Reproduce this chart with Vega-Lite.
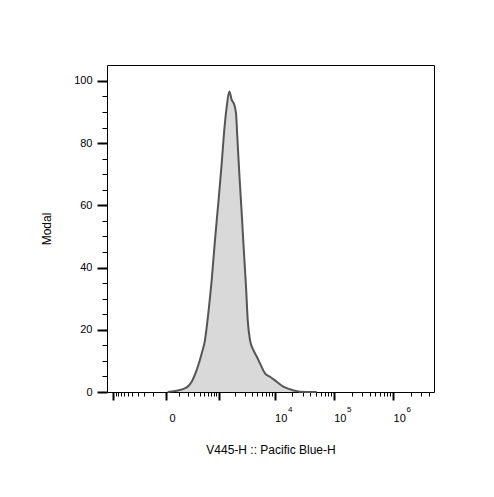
{
  "$schema": "https://vega.github.io/schema/vega-lite/v6.json",
  "width": 327,
  "height": 327,
  "autosize": {"type": "none"},
  "padding": {"left": 107, "top": 65, "right": 60, "bottom": 105},
  "background": "white",
  "config": {
    "view": {"stroke": "#000", "strokeWidth": 1},
    "font": "Liberation Sans",
    "axis": {
      "domain": false,
      "grid": false,
      "tickColor": "#000",
      "labelFont": "Liberation Sans",
      "labelFontSize": 11,
      "labelColor": "#000",
      "titleFont": "Liberation Sans",
      "titleFontSize": 12,
      "titleFontWeight": "normal",
      "titleColor": "#000"
    }
  },
  "data": {
    "values": [
      {"intensity": 10, "modal": 0},
      {"intensity": 37, "modal": 0.2},
      {"intensity": 77, "modal": 0.42},
      {"intensity": 185, "modal": 1.5},
      {"intensity": 256, "modal": 3.3},
      {"intensity": 343, "modal": 7.1},
      {"intensity": 449, "modal": 12.4},
      {"intensity": 530, "modal": 16.7},
      {"intensity": 623, "modal": 25.3},
      {"intensity": 732, "modal": 36.0},
      {"intensity": 852, "modal": 48.9},
      {"intensity": 989, "modal": 60.7},
      {"intensity": 1150, "modal": 73.5},
      {"intensity": 1271, "modal": 83.2},
      {"intensity": 1428, "modal": 91.7},
      {"intensity": 1595, "modal": 96.6},
      {"intensity": 1766, "modal": 93.9},
      {"intensity": 1944, "modal": 92.6},
      {"intensity": 2113, "modal": 89.6},
      {"intensity": 2229, "modal": 82.1},
      {"intensity": 2421, "modal": 70.3},
      {"intensity": 2671, "modal": 57.5},
      {"intensity": 2934, "modal": 44.6},
      {"intensity": 3184, "modal": 33.9},
      {"intensity": 3411, "modal": 23.2},
      {"intensity": 3742, "modal": 16.7},
      {"intensity": 4274, "modal": 13.5},
      {"intensity": 4898, "modal": 11.4},
      {"intensity": 5585, "modal": 9.2},
      {"intensity": 6813, "modal": 6.0},
      {"intensity": 8300, "modal": 4.9},
      {"intensity": 10806, "modal": 3.3},
      {"intensity": 14001, "modal": 1.7},
      {"intensity": 18195, "modal": 0.87},
      {"intensity": 26895, "modal": 0.1},
      {"intensity": 51510, "modal": 0}
    ]
  },
  "layer": [
    {
      "mark": {
        "type": "area",
        "color": "#d9d9d9",
        "opacity": 1,
        "interpolate": "monotone",
        "line": {"color": "#555555", "strokeWidth": 2}
      },
      "encoding": {
        "x": {
          "field": "intensity",
          "type": "quantitative",
          "scale": {"type": "symlog", "constant": 150, "domain": [-1327, 4874000], "nice": false, "zero": false},
          "axis": {
            "orient": "bottom",
            "values": [-1000, 0, 1000, 10000, 100000, 1000000],
            "labelExpr": "datum.value == 0 ? '0' : datum.value >= 10000 ? '10' : ''",
            "tickSize": 8,
            "tickWidth": 2,
            "labelAlign": "center",
            "labelOffset": 6,
            "labelPadding": 12,
            "labelFlush": false,
            "labelOverlap": false,
            "title": "V445-H :: Pacific Blue-H",
            "titlePadding": 21
          }
        },
        "y": {
          "field": "modal",
          "type": "quantitative",
          "scale": {"domain": [0, 105.1], "nice": false, "zero": false},
          "axis": {
            "orient": "left",
            "values": [0, 20, 40, 60, 80, 100],
            "tickSize": 10,
            "tickWidth": 2,
            "labelPadding": 5,
            "title": "Modal",
            "titlePadding": 20
          }
        }
      }
    },
    {
      "mark": {"type": "point", "opacity": 0},
      "encoding": {
        "x": {
          "field": "intensity",
          "type": "quantitative",
          "axis": {
            "orient": "bottom",
            "values": [-900, -800, -700, -600, -500, -400, -300, -200, -100, 100, 200, 300, 400, 500, 600, 700, 800, 900, 2000, 3000, 4000, 5000, 6000, 7000, 8000, 9000, 20000, 30000, 40000, 50000, 60000, 70000, 80000, 90000, 200000, 300000, 400000, 500000, 600000, 700000, 800000, 900000, 2000000, 3000000, 4000000],
            "labels": false,
            "tickSize": 4,
            "tickWidth": 1,
            "title": null
          }
        },
        "y": {
          "field": "modal",
          "type": "quantitative",
          "axis": {
            "orient": "left",
            "values": [5, 10, 15, 25, 30, 35, 45, 50, 55, 65, 70, 75, 85, 90, 95],
            "labels": false,
            "tickSize": 5,
            "tickWidth": 1,
            "title": null
          }
        }
      }
    },
    {
      "mark": {"type": "point", "opacity": 0},
      "encoding": {
        "x": {
          "field": "intensity",
          "type": "quantitative",
          "axis": {
            "orient": "bottom",
            "values": [10000, 100000, 1000000],
            "labelExpr": "datum.value == 10000 ? '4' : datum.value == 100000 ? '5' : '6'",
            "ticks": false,
            "labelFontSize": 8,
            "labelAlign": "center",
            "labelOffset": 15,
            "labelPadding": 13,
            "labelFlush": false,
            "labelOverlap": false,
            "title": null,
            "encode": {"labels": {"update": {"dy": {"value": -7}}}}
          }
        }
      }
    }
  ],
  "resolve": {"axis": {"x": "independent", "y": "independent"}}
}
